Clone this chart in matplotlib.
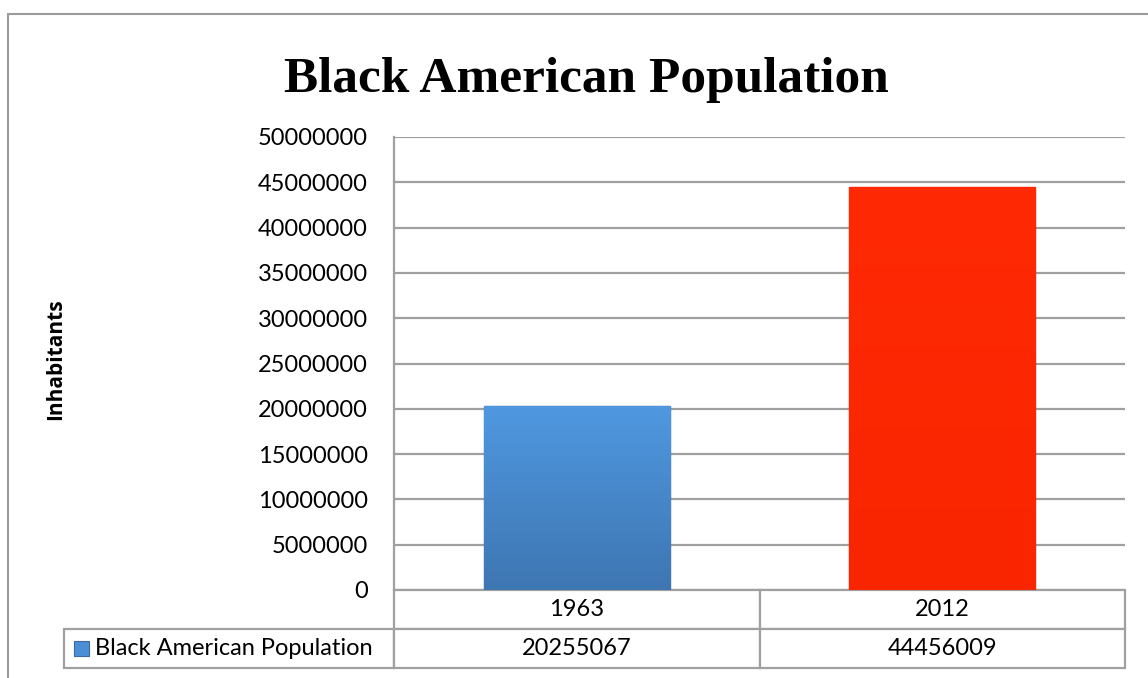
import matplotlib.pyplot as plt
import numpy as np
from matplotlib.patches import Rectangle

years = ["1963", "2012"]
population = [20255067, 44456009]
series_name = "Black American Population"
yticks = list(range(0, 50000001, 5000000))

W, H = 1148, 678
fig = plt.figure(figsize=(W / 100, H / 100), dpi=100)

# plot area in pixels
x0, x1, ytop, ybot = 394, 1125, 137, 590
ax = fig.add_axes([x0 / W, 1 - ybot / H, (x1 - x0) / W, (ybot - ytop) / H])

gray = "#a0a0a0"
x = np.arange(len(years))
bars = ax.bar(x, population, width=0.51, color=["#4a8fd6", "#ff2600"],
              edgecolor=["#3a6a9e", "#c41e00"], linewidth=1.0, zorder=3)

# soft vertical gradient inside each bar
grads = [("#4f98e0", "#3e76b2"), ("#ff2a04", "#f82500")]
for b, (c_top, c_bot) in zip(bars, grads):
    c1 = np.array(plt.matplotlib.colors.to_rgb(c_top))
    c2 = np.array(plt.matplotlib.colors.to_rgb(c_bot))
    t = np.linspace(0, 1, 100)[:, None]
    img = (c1 * (1 - t) + c2 * t)[:, None, :]
    im = ax.imshow(img, extent=[b.get_x(), b.get_x() + b.get_width(), 0, b.get_height()],
                   aspect="auto", zorder=3.5)
    im.set_clip_path(b)

ax.set_xlim(-0.5, len(years) - 0.5)
ax.set_ylim(0, 50000000)
ax.set_yticks(yticks)
ax.set_yticklabels([str(v) for v in yticks], fontsize=17, fontfamily="Lato")
ax.tick_params(axis="y", length=0, pad=19)
ax.set_xticks([])
ax.grid(axis="y", color=gray, linewidth=1.6, zorder=0)
for s in ["top", "right", "bottom"]:
    ax.spines[s].set_visible(False)
ax.spines["left"].set_color(gray)
ax.spines["left"].set_linewidth(1.6)

# data table underneath (bbox covers the value grid, row label sits to the left)
row_h = 39
lbl_w = x0 - 65
pw = x1 - x0
tbl = ax.table(cellText=[[str(v) for v in population]],
               rowLabels=[series_name], colLabels=years,
               cellLoc="center", rowLoc="left",
               bbox=[0, -2 * row_h / (ybot - ytop), 1, 2 * row_h / (ybot - ytop)])
tbl.auto_set_font_size(False)
for (r, c), cell in tbl.get_celld().items():
    cell.set_width(lbl_w / pw if c == -1 else 0.5)
    cell.set_edgecolor(gray)
    cell.set_linewidth(1.6)
    cell.PAD = (96 - 65) / lbl_w if c == -1 else 0.01
    cell.get_text().set_fontsize(17)
    cell.get_text().set_fontfamily("Lato")

# legend key
fig.add_artist(Rectangle((74 / W, 1 - 656 / H), 15 / W, 15 / H,
                         facecolor="#4a8fd6", edgecolor="#3a6a9e", linewidth=0.8))

ax.set_ylabel("Inhabitants", fontsize=15, fontweight="bold", fontfamily="Open Sans")
ax.yaxis.set_label_coords(66 / W, 1 - 359 / H, transform=fig.transFigure)

fig.text(586 / W, 1 - 80 / H, "Black American Population", ha="center", va="center",
         fontsize=37, fontweight="bold", fontfamily="Liberation Serif")

# outer chart border
fig.add_artist(Rectangle((8 / W, -0.1), 1.2, 1 - 14 / H + 0.1, fill=False,
                         edgecolor="#9a9a9a", linewidth=1.5))

fig.savefig("out.png", dpi=100)
